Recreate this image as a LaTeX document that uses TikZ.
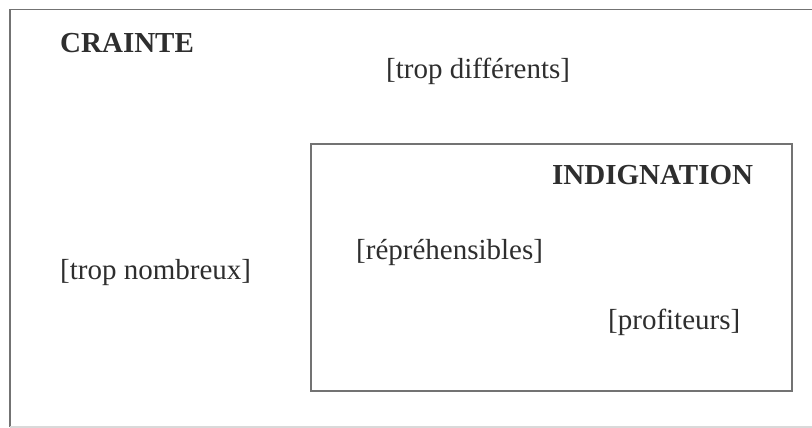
\documentclass[tikz,border=0pt]{standalone}
\usepackage{fontspec}
\setmainfont{Liberation Serif}
\usepackage{tikz}

\tikzset{
  frame/.style={draw=black!55, line width=1.8pt},
  lbl/.style={anchor=base west, inner sep=0pt, text=black!82, font=\fontsize{29}{34}\selectfont},
  ttl/.style={lbl, font=\fontsize{29}{34}\selectfont\bfseries}
}

\begin{document}
\begin{tikzpicture}[x=1pt, y=-1pt]
\useasboundingbox (0,0) rectangle (812,428);

\draw[frame] (10,427) -- (10,9.5) -- (812,9.5);
\draw[draw=black!15, line width=1.2pt] (10,427) -- (812,427);
\draw[frame] (311,144) rectangle (792,391);

\node[ttl](crainte) at (60,53) {CRAINTE};
\node[lbl](diff) at (386,79) {[trop différents]};
\node[lbl](nombreux) at (60,279) {[trop nombreux]};

\node[ttl](indignation) at (552,184) {INDIGNATION};
\node[lbl](repr) at (356,259) {[répréhensibles]};
\node[lbl](profit) at (608,329) {[profiteurs]};
\end{tikzpicture}
\end{document}
